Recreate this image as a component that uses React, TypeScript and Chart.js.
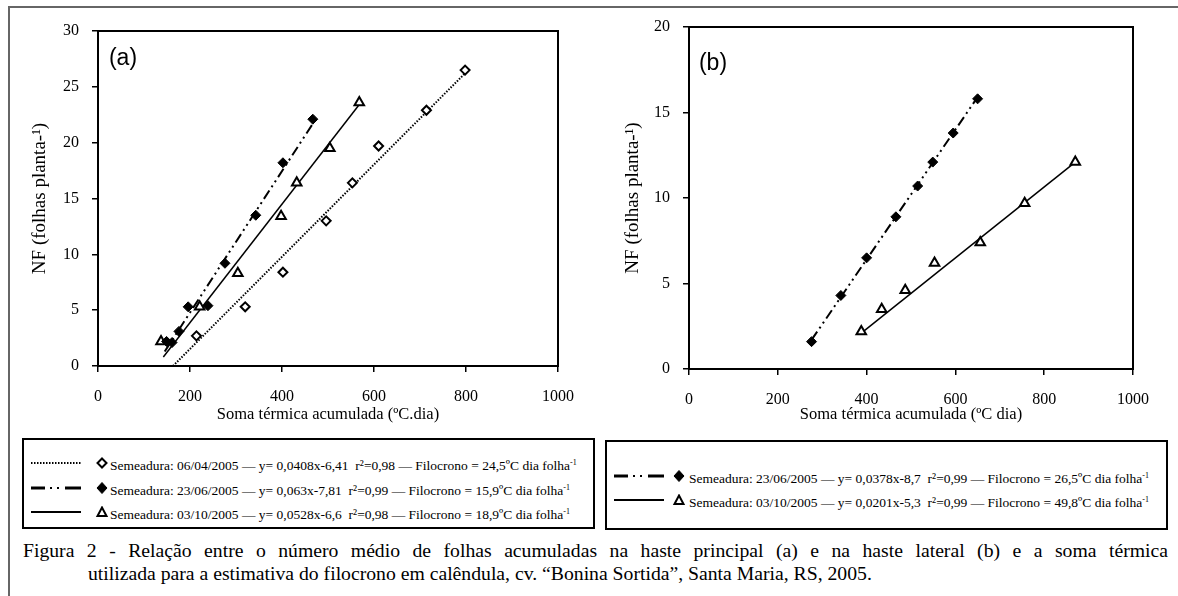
import React, { useEffect, useRef } from "react";
import { Chart, registerables } from "chart.js";
Chart.register(...registerables);

const SERIF = '"Liberation Serif", "Times New Roman", serif';
const SANS = '"Liberation Sans", Arial, sans-serif';

// ---------- axes ----------
const xTickValues = [0, 200, 400, 600, 800, 1000];
const yTickValuesA = [0, 5, 10, 15, 20, 25, 30];
const yTickValuesB = [0, 5, 10, 15, 20];
const xTitleA = "Soma térmica acumulada (ºC.dia)";
const xTitleB = "Soma térmica acumulada (ºC dia)";
const yTitle = "NF (folhas planta-¹)";

// ---------- panel (a): haste principal ----------
const a0604X = [214, 320, 402, 496, 553, 610, 714, 798];
const a0604Y = [2.7, 5.3, 8.4, 13.0, 16.4, 19.7, 22.9, 26.5];
const a2306X = [149, 161, 176, 196, 239, 276, 343, 402, 467];
const a2306Y = [2.2, 2.1, 3.1, 5.3, 5.4, 9.2, 13.5, 18.2, 22.1];
const a0310X = [137, 221, 304, 398, 432, 504, 568];
const a0310Y = [2.2, 5.3, 8.3, 13.4, 16.4, 19.5, 23.6];
// fitted lines (end points)
const aFit0604X = [163, 800];
const aFit0604Y = [0, 26.3];
const aFit2306X = [145, 467];
const aFit2306Y = [1.3, 21.7];
const aFit0310X = [142, 566];
const aFit0310Y = [0.8, 23.3];

// ---------- panel (b): haste lateral ----------
const b2306X = [276, 342, 400, 466, 515, 549, 595, 650];
const b2306Y = [1.6, 4.3, 6.5, 8.9, 10.7, 12.1, 13.8, 15.8];
const b0310X = [388, 434, 487, 553, 656, 756, 870];
const b0310Y = [2.2, 3.5, 4.6, 6.2, 7.4, 9.7, 12.1];
const bFit2306X = [276, 650];
const bFit2306Y = [1.7, 15.9];
const bFit0310X = [388, 870];
const bFit0310Y = [2.1, 12.1];

// ---------- legends / caption ----------
const legendA = [
  { text: "Semeadura: 06/04/2005 — y= 0,0408x-6,41  r²=0,98 — Filocrono = 24,5ºC dia folha", line: "dot", marker: "diamondOpen" },
  { text: "Semeadura: 23/06/2005 — y= 0,063x-7,81  r²=0,99 — Filocrono = 15,9ºC dia folha", line: "dashDotDot", marker: "diamondFilled" },
  { text: "Semeadura: 03/10/2005 — y= 0,0528x-6,6  r²=0,98 — Filocrono = 18,9ºC dia folha", line: "solid", marker: "triangleOpen" },
];
const legendB = [
  { text: "Semeadura: 23/06/2005 — y= 0,0378x-8,7  r²=0,99 — Filocrono = 26,5ºC dia folha", line: "dashDotDot", marker: "diamondFilled" },
  { text: "Semeadura: 03/10/2005 — y= 0,0201x-5,3  r²=0,99 — Filocrono = 49,8ºC dia folha", line: "solid", marker: "triangleOpen" },
];
const captionLine1 = "Figura 2 - Relação entre o número médio de folhas acumuladas na haste principal (a) e na haste lateral (b) e a soma térmica";
const captionLine2 = "utilizada para a estimativa do filocrono em calêndula, cv. “Bonina Sortida”, Santa Maria, RS, 2005.";

// ---------- styles ----------
const markerStyles: Record<string, any> = {
  diamondOpen: { pointStyle: "rectRot", pointRadius: 4.5, pointBackgroundColor: "#fff", pointBorderColor: "#000", pointBorderWidth: 2 },
  diamondFilled: { pointStyle: "rectRot", pointRadius: 5, pointBackgroundColor: "#000", pointBorderColor: "#000", pointBorderWidth: 1 },
  triangleOpen: { pointStyle: "triangle", pointRadius: 5.5, pointBackgroundColor: "#fff", pointBorderColor: "#000", pointBorderWidth: 2 },
};
const lineDash: Record<string, number[]> = {
  dot: [1.5, 1.5],
  dashDotDot: [10, 4, 2, 4, 2, 4],
  solid: [],
};

const pts = (xs: number[], ys: number[]) => xs.map((x, i) => ({ x, y: ys[i] }));

const markerSet = (xs: number[], ys: number[], m: string) => ({
  data: pts(xs, ys),
  showLine: false,
  ...markerStyles[m],
  order: 0,
});
const fitSet = (xs: number[], ys: number[], l: string) => ({
  data: pts(xs, ys),
  showLine: true,
  pointRadius: 0,
  borderColor: "#000",
  borderWidth: l === "solid" ? 1.5 : 2,
  borderDash: lineDash[l],
  fill: false,
  order: 1,
});

const panelA = {
  left: 0, width: 590, height: 430, padTop: 31, padRight: 32, yAxisW: 98, xAxisH: 64,
  yMax: 30, yTicks: yTickValuesA, xTitle: xTitleA, yTitlePad: 29, tag: "(a)", tagDx: 25, tagDy: 28,
  datasets: [
    markerSet(a0604X, a0604Y, "diamondOpen"),
    markerSet(a2306X, a2306Y, "diamondFilled"),
    markerSet(a0310X, a0310Y, "triangleOpen"),
    fitSet(aFit0604X, aFit0604Y, "dot"),
    fitSet(aFit2306X, aFit2306Y, "dashDotDot"),
    fitSet(aFit0310X, aFit0310Y, "solid"),
  ],
};
const panelB = {
  left: 590, width: 588, height: 430, padTop: 27, padRight: 45, yAxisW: 99, xAxisH: 61,
  yMax: 20, yTicks: yTickValuesB, xTitle: xTitleB, yTitlePad: 32, tag: "(b)", tagDx: 24, tagDy: 37,
  datasets: [
    markerSet(b2306X, b2306Y, "diamondFilled"),
    markerSet(b0310X, b0310Y, "triangleOpen"),
    fitSet(bFit2306X, bFit2306Y, "dashDotDot"),
    fitSet(bFit0310X, bFit0310Y, "solid"),
  ],
};

function Panel({ cfg }: { cfg: any }) {
  const ref = useRef<HTMLCanvasElement>(null);
  useEffect(() => {
    const framePlugin = {
      id: "frame",
      afterDraw(chart: any) {
        const { ctx, chartArea: a } = chart;
        ctx.save();
        ctx.strokeStyle = "#000";
        ctx.lineWidth = 2;
        ctx.strokeRect(a.left, a.top, a.right - a.left, a.bottom - a.top);
        ctx.fillStyle = "#000";
        ctx.font = `23px ${SANS}`;
        ctx.textAlign = "center";
        ctx.textBaseline = "middle";
        ctx.fillText(cfg.tag, a.left + cfg.tagDx, a.top + cfg.tagDy);
        ctx.restore();
      },
    };
    const chart = new Chart(ref.current as HTMLCanvasElement, {
      type: "scatter",
      data: { datasets: cfg.datasets },
      options: {
        animation: false,
        responsive: false,
        devicePixelRatio: 1,
        layout: { padding: { top: cfg.padTop, right: cfg.padRight, left: 0, bottom: 0 } },
        plugins: { legend: { display: false }, tooltip: { enabled: false } },
        scales: {
          x: {
            type: "linear",
            min: 0,
            max: 1000,
            afterBuildTicks: (s: any) => { s.ticks = xTickValues.map((v) => ({ value: v })); },
            afterFit: (s: any) => { s.height = cfg.xAxisH; },
            ticks: { color: "#000", font: { family: SERIF, size: 16 }, padding: 15, maxRotation: 0, autoSkip: false, callback: (v: any) => String(v) },
            grid: { drawOnChartArea: false, drawTicks: true, tickLength: 6, color: "#000", lineWidth: 1.5 },
            border: { display: true, color: "#000", width: 2 },
            title: { display: true, text: cfg.xTitle, color: "#000", font: { family: SERIF, size: 16.5 }, padding: { top: 0, bottom: 5 } },
          },
          y: {
            type: "linear",
            min: 0,
            max: cfg.yMax,
            afterBuildTicks: (s: any) => { s.ticks = cfg.yTicks.map((v: number) => ({ value: v })); },
            afterFit: (s: any) => { s.width = cfg.yAxisW; },
            ticks: { color: "#000", font: { family: SERIF, size: 16 }, padding: 13, autoSkip: false, callback: (v: any) => String(v) },
            grid: { drawOnChartArea: false, drawTicks: true, tickLength: 6, color: "#000", lineWidth: 1.5 },
            border: { display: true, color: "#000", width: 2 },
            title: { display: true, text: yTitle, color: "#000", font: { family: SERIF, size: 19 }, padding: { top: cfg.yTitlePad, bottom: 0 } },
          },
        },
      } as any,
      plugins: [framePlugin],
    });
    return () => chart.destroy();
  }, []);
  return (
    <canvas
      ref={ref}
      width={cfg.width}
      height={cfg.height}
      style={{ position: "absolute", left: cfg.left, top: 0, width: cfg.width, height: cfg.height }}
    />
  );
}

function LegendSample({ line, marker, cx }: { line: string; marker: string; cx: number }) {
  let lineEl;
  if (line === "dot") {
    lineEl = <line x1={0} y1={6} x2={50} y2={6} stroke="#000" strokeWidth={2} strokeDasharray="1.5 1.5" />;
  } else if (line === "dashDotDot") {
    lineEl = (
      <g stroke="#000" strokeWidth={3}>
        <line x1={0} y1={6} x2={14} y2={6} />
        <line x1={19} y1={6} x2={21} y2={6} strokeWidth={2} />
        <line x1={26} y1={6} x2={28} y2={6} strokeWidth={2} />
        <line x1={34} y1={6} x2={50} y2={6} />
      </g>
    );
  } else {
    lineEl = <line x1={0} y1={6} x2={50} y2={6} stroke="#000" strokeWidth={2} />;
  }
  let mk;
  if (marker === "diamondOpen") {
    mk = <polygon points={`${cx},1.5 ${cx + 4.5},6 ${cx},10.5 ${cx - 4.5},6`} fill="#fff" stroke="#000" strokeWidth={2} />;
  } else if (marker === "diamondFilled") {
    mk = <polygon points={`${cx},0.5 ${cx + 5},6 ${cx},11.5 ${cx - 5},6`} fill="#000" stroke="#000" strokeWidth={1} />;
  } else {
    mk = <polygon points={`${cx},1.5 ${cx + 4.5},10 ${cx - 4.5},10`} fill="#fff" stroke="#000" strokeWidth={2} />;
  }
  return (
    <svg width={cx + 8} height={12} style={{ display: "block" }}>
      {lineEl}
      {mk}
    </svg>
  );
}

function LegendBox({ items, box, rowsY, sampleX, markerDx, textX }: any) {
  return (
    <div
      style={{
        position: "absolute",
        left: box.left,
        top: box.top,
        width: box.right - box.left,
        height: box.bottom - box.top,
        boxSizing: "border-box",
        border: "2px solid #000",
      }}
    >
      {items.map((it: any, i: number) => (
        <React.Fragment key={i}>
          <div style={{ position: "absolute", left: sampleX - box.left - 2, top: rowsY[i] - box.top - 8 }}>
            <LegendSample line={it.line} marker={it.marker} cx={markerDx} />
          </div>
          <div
            style={{
              position: "absolute",
              left: textX - box.left - 2,
              top: rowsY[i] - box.top - 11,
              height: 18,
              lineHeight: "18px",
              fontFamily: SERIF,
              fontSize: 13.5,
              color: "#000",
              whiteSpace: "pre",
            }}
          >
            {it.text}
            <sup style={{ fontSize: 8, verticalAlign: "5px" }}>-1</sup>
          </div>
        </React.Fragment>
      ))}
    </div>
  );
}

export default function App() {
  return (
    <div style={{ position: "absolute", left: 0, top: 0, width: 1178, height: 596, background: "#fff", overflow: "hidden" }}>
      <div style={{ position: "absolute", left: 8, top: 6, width: 1170, height: 2, background: "#666" }} />
      <div style={{ position: "absolute", left: 8, top: 6, width: 2, height: 590, background: "#666" }} />
      <Panel cfg={panelA} />
      <Panel cfg={panelB} />
      <LegendBox items={legendA} box={{ left: 22, top: 438, right: 595, bottom: 529 }} rowsY={[463, 488, 512]} sampleX={31} markerDx={71} textX={110} />
      <LegendBox items={legendB} box={{ left: 605, top: 440, right: 1168, bottom: 530 }} rowsY={[476, 500]} sampleX={614} markerDx={65} textX={689} />
      <div
        style={{
          position: "absolute",
          left: 23,
          top: 539,
          width: 1145,
          height: 22,
          lineHeight: "22px",
          fontFamily: SERIF,
          fontSize: 19.7,
          color: "#000",
          textAlign: "justify",
          textAlignLast: "justify",
          whiteSpace: "nowrap",
        }}
      >
        {captionLine1}
      </div>
      <div
        style={{
          position: "absolute",
          left: 88,
          top: 562,
          height: 22,
          lineHeight: "22px",
          fontFamily: SERIF,
          fontSize: 19.7,
          color: "#000",
          whiteSpace: "nowrap",
        }}
      >
        {captionLine2}
      </div>
    </div>
  );
}
